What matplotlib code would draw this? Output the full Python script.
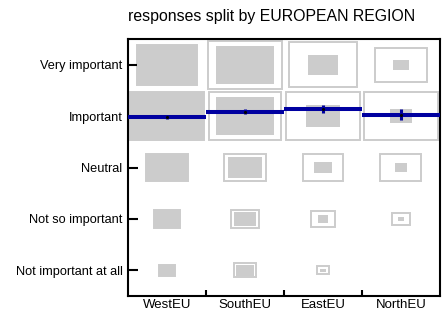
import numpy as np
import matplotlib
matplotlib.use("Agg")
import matplotlib.pyplot as plt
from matplotlib.patches import Rectangle

plt.rcParams['font.family'] = ['Liberation Sans', 'DejaVu Sans']

regiones = ['WestEU', 'SouthEU', 'EastEU', 'NorthEU']
niveles = ['Very important', 'Important', 'Neutral', 'Not so important', 'Not important at all']

# respuestas por region (de Very important a Not important at all)
west = [122, 180, 60, 23, 9]
south = [113, 110, 37, 16, 10]
east = [32, 37, 11, 4, 1]
north = [8, 16, 5, 1, 0]

# media (1..5) y error de cada region
medias = [3.99, 4.09, 4.14, 4.03]
errores = [0.04, 0.055, 0.08, 0.115]

conteos = np.array([west, south, east, north], dtype=float)
maximo = conteos.max()
escala = 0.94

fig = plt.figure(figsize=(4.46, 3.2), dpi=100)
ax = fig.add_axes([0.287, 0.075, 0.6995, 0.803])

for i in range(len(regiones)):
    max_col = conteos[i].max()
    for j, n in enumerate(conteos[i]):
        if n <= 0:
            continue
        cy = len(niveles) - j - 0.5
        cx = i + 0.5
        # contorno: proporcion dentro de la region
        s = escala * np.sqrt(n / max_col)
        ax.add_patch(Rectangle((cx - s / 2, cy - s / 2), s, s, fill=False,
                               edgecolor='#cccccc', linewidth=1.4, zorder=1))
        # relleno: numero absoluto de respuestas
        s = escala * np.sqrt(n / maximo)
        ax.add_patch(Rectangle((cx - s / 2, cy - s / 2), s, s, facecolor='#cccccc',
                               edgecolor='none', zorder=2))

for i, (m, e) in enumerate(zip(medias, errores)):
    y = m - 0.5
    ax.plot([i, i + 1], [y, y], color='#0000a0', linewidth=2.9, solid_capstyle='butt', zorder=3)
    ax.plot([i + 0.5, i + 0.5], [y - e, y + e], color='#0000a0', linewidth=2.2,
            solid_capstyle='butt', zorder=4)
    ax.plot(i + 0.5, y, marker='.', color='black', markersize=2.5, zorder=5)

ax.set_xlim(0, 4)
ax.set_ylim(0, 5)
ax.set_xticks([1, 2, 3])
ax.set_xticklabels([])
ax.set_xticks(np.arange(4) + 0.5, minor=True)
ax.set_xticklabels(regiones, minor=True, fontsize=9.5)
ax.tick_params(axis='x', which='major', direction='in', length=4, width=1.5)
ax.tick_params(axis='x', which='minor', length=0, pad=2)
ax.set_yticks(np.arange(5) + 0.5)
ax.set_yticklabels(niveles[::-1], fontsize=9.2)
ax.tick_params(axis='y', direction='in', length=7, width=1.5, pad=4)
for sp in ax.spines.values():
    sp.set_linewidth(1.5)

fig.text(0.609, 0.947, 'responses split by EUROPEAN REGION', fontsize=11.4,
         ha='center', va='center')

fig.savefig('out.png', dpi=100)
